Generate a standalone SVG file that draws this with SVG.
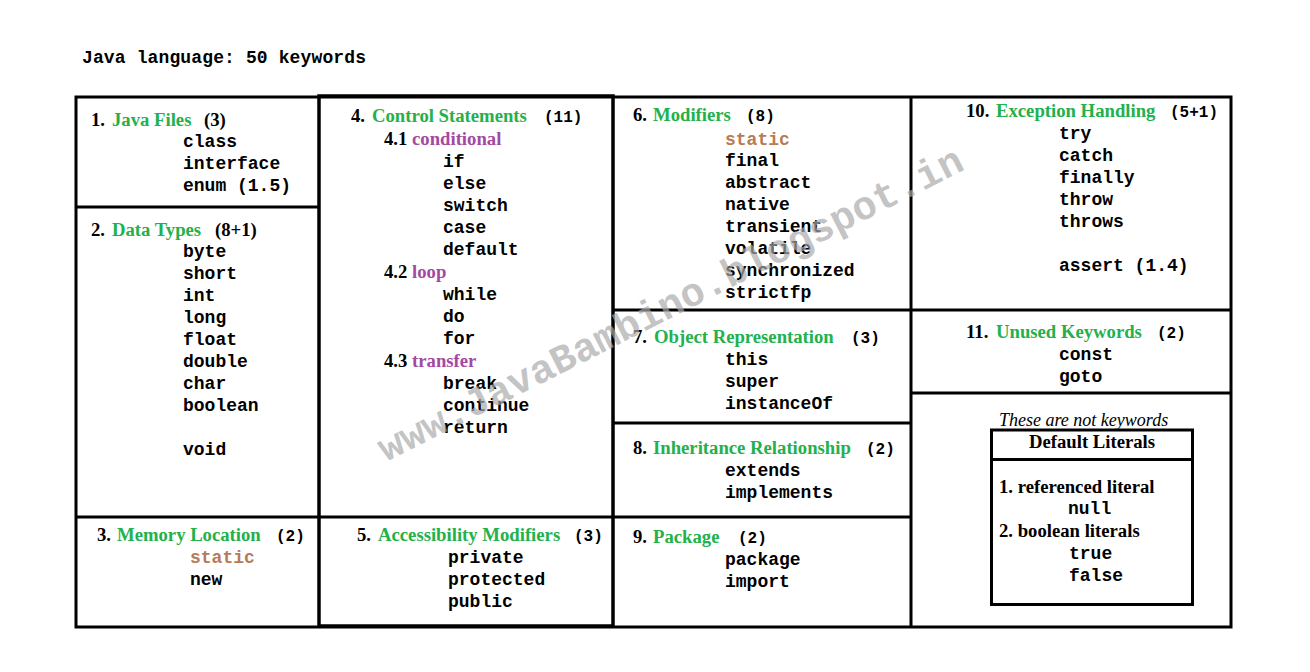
<svg xmlns="http://www.w3.org/2000/svg" width="1310" height="672" viewBox="0 0 1310 672">
<style>
.kw{font-family:"Liberation Mono","Courier New",monospace;font-weight:bold;font-size:18px;fill:#000}
.hd{font-family:"Liberation Serif","Times New Roman",serif;font-weight:bold;font-size:18.7px;fill:#000}
.cnt{font-family:"Liberation Mono","Courier New",monospace;font-weight:bold;font-size:16px;fill:#000}
.g{fill:#22b14c}.p{fill:#a349a4}.b{fill:#b97a57}
.ln{stroke:#000;stroke-width:3;fill:none}
.it{font-family:"Liberation Serif","Times New Roman",serif;font-style:italic;font-size:18px;fill:#000}
.wm{font-family:"Liberation Mono","Courier New",monospace;font-weight:bold;font-size:40px}
</style>
<rect width="1310" height="672" fill="#fff"/>
<text class="kw" x="82" y="63" textLength="284">Java language: 50 keywords</text>
<g id="grid">
<rect class="ln" x="76" y="97" width="1155" height="530"/>
<rect class="ln" x="319" y="96" width="294" height="530" style="stroke-width:3.5"/>
<line class="ln" x1="911" y1="97" x2="911" y2="627"/>
<line class="ln" x1="76" y1="207" x2="318" y2="207"/>
<line class="ln" x1="76" y1="517" x2="613" y2="517"/>
<line class="ln" x1="613" y1="310" x2="1231" y2="310"/>
<line class="ln" x1="613" y1="423" x2="911" y2="423"/>
<line class="ln" x1="613" y1="517" x2="911" y2="517"/>
<line class="ln" x1="911" y1="393" x2="1231" y2="393"/>
</g>
<g id="n1">
<text class="hd" x="91" y="126">1. <tspan class="g" x="112">Java Files</tspan><tspan x="204">(3)</tspan></text>
<text class="kw" x="183" y="147">class</text>
<text class="kw" x="183" y="169">interface</text>
<text class="kw" x="183" y="191">enum (1.5)</text>
</g>
<g id="n2">
<text class="hd" x="91" y="236">2. <tspan class="g" x="112">Data Types</tspan><tspan x="215">(8+1)</tspan></text>
<text class="kw" x="183" y="257">byte</text>
<text class="kw" x="183" y="279">short</text>
<text class="kw" x="183" y="301">int</text>
<text class="kw" x="183" y="323">long</text>
<text class="kw" x="183" y="345">float</text>
<text class="kw" x="183" y="367">double</text>
<text class="kw" x="183" y="389">char</text>
<text class="kw" x="183" y="411">boolean</text>
<text class="kw" x="183" y="455">void</text>
</g>
<g id="n3">
<text class="hd" x="97" y="541">3. <tspan class="g" x="117">Memory Location</tspan></text>
<text class="cnt" x="276" y="541">(2)</text>
<text class="kw b" x="190" y="563">static</text>
<text class="kw" x="190" y="585">new</text>
</g>
<g id="n4">
<text class="hd" x="351" y="122">4. <tspan class="g" x="372">Control Statements</tspan></text>
<text class="cnt" x="544" y="122">(11)</text>
<text class="hd" x="384" y="145">4.1 <tspan class="p">conditional</tspan></text>
<text class="kw" x="443" y="167">if</text>
<text class="kw" x="443" y="189">else</text>
<text class="kw" x="443" y="211">switch</text>
<text class="kw" x="443" y="233">case</text>
<text class="kw" x="443" y="255">default</text>
<text class="hd" x="384" y="278">4.2 <tspan class="p">loop</tspan></text>
<text class="kw" x="443" y="300">while</text>
<text class="kw" x="443" y="322">do</text>
<text class="kw" x="443" y="344">for</text>
<text class="hd" x="384" y="367">4.3 <tspan class="p">transfer</tspan></text>
<text class="kw" x="443" y="389">break</text>
<text class="kw" x="443" y="411">continue</text>
<text class="kw" x="443" y="433">return</text>
</g>
<g id="n5">
<text class="hd" x="357" y="541">5. <tspan class="g" x="378">Accessibility Modifiers</tspan></text>
<text class="cnt" x="574" y="541">(3)</text>
<text class="kw" x="448" y="563">private</text>
<text class="kw" x="448" y="585">protected</text>
<text class="kw" x="448" y="607">public</text>
</g>
<g id="n6">
<text class="hd" x="633" y="121">6. <tspan class="g" x="653">Modifiers</tspan></text>
<text class="cnt" x="746" y="121">(8)</text>
<text class="kw b" x="725" y="145">static</text>
<text class="kw" x="725" y="166">final</text>
<text class="kw" x="725" y="188">abstract</text>
<text class="kw" x="725" y="210">native</text>
<text class="kw" x="725" y="232">transient</text>
<text class="kw" x="725" y="254">volatile</text>
<text class="kw" x="725" y="276">synchronized</text>
<text class="kw" x="725" y="298">strictfp</text>
</g>
<g id="n7">
<text class="hd" x="633" y="343">7. <tspan class="g" x="654">Object Representation</tspan></text>
<text class="cnt" x="851" y="343">(3)</text>
<text class="kw" x="725" y="365">this</text>
<text class="kw" x="725" y="387">super</text>
<text class="kw" x="725" y="409">instanceOf</text>
</g>
<g id="n8">
<text class="hd" x="633" y="454">8. <tspan class="g" x="653">Inheritance Relationship</tspan></text>
<text class="cnt" x="866" y="454">(2)</text>
<text class="kw" x="725" y="476">extends</text>
<text class="kw" x="725" y="498">implements</text>
</g>
<g id="n9">
<text class="hd" x="633" y="543">9. <tspan class="g" x="653">Package</tspan></text>
<text class="cnt" x="738" y="543">(2)</text>
<text class="kw" x="725" y="565">package</text>
<text class="kw" x="725" y="587">import</text>
</g>
<g id="n10">
<text class="hd" x="966" y="117">10. <tspan class="g" x="996">Exception Handling</tspan></text>
<text class="cnt" x="1170" y="117">(5+1)</text>
<text class="kw" x="1059" y="139">try</text>
<text class="kw" x="1059" y="161">catch</text>
<text class="kw" x="1059" y="183">finally</text>
<text class="kw" x="1059" y="205">throw</text>
<text class="kw" x="1059" y="227">throws</text>
<text class="kw" x="1059" y="271">assert (1.4)</text>
</g>
<g id="n11">
<text class="hd" x="966" y="338">11. <tspan class="g" x="996">Unused Keywords</tspan></text>
<text class="cnt" x="1157" y="338">(2)</text>
<text class="kw" x="1059" y="360">const</text>
<text class="kw" x="1059" y="382">goto</text>
</g>
<g id="literals">
<text class="it" x="999" y="426">These are not keywords</text>
<rect class="ln" x="991.5" y="430" width="201" height="174.5"/>
<line class="ln" x1="991.5" y1="459.5" x2="1192.5" y2="459.5"/>
<text class="hd" x="1092" y="448" text-anchor="middle">Default Literals</text>
<text class="hd" x="999" y="493">1. referenced literal</text>
<text class="kw" x="1068" y="514">null</text>
<text class="hd" x="999" y="537">2. boolean literals</text>
<text class="kw" x="1069" y="559">true</text>
<text class="kw" x="1069" y="581">false</text>
</g>
<text class="wm" transform="translate(386,462) rotate(-26.8)" x="0" y="0" textLength="650" lengthAdjust="spacingAndGlyphs" style="fill:#aaaaaa;fill-opacity:0.7">www.JavaBambino.blogspot.in</text>
</svg>
